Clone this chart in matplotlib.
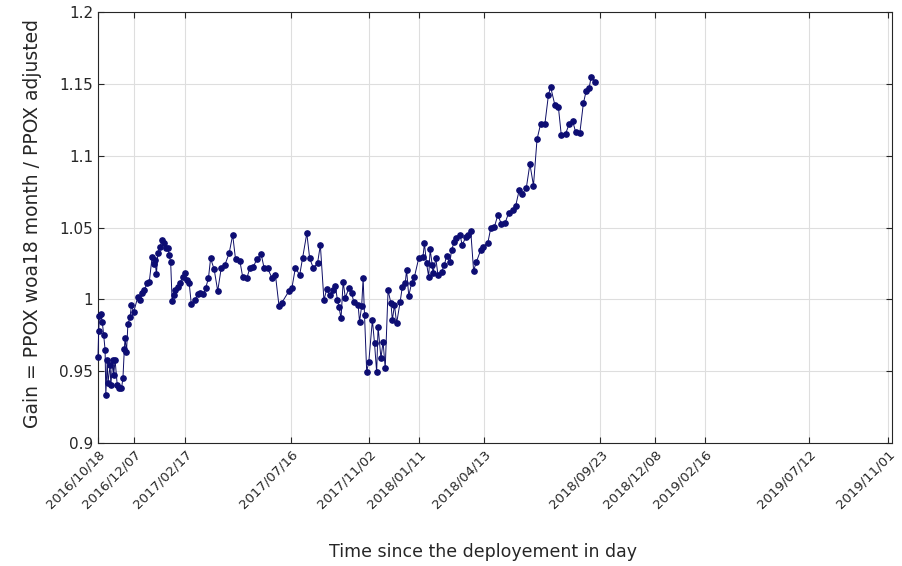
import numpy as np
import matplotlib
matplotlib.use("Agg")
import matplotlib.pyplot as plt

# deployment date and the dates marked on the time axis
start_date = "2016-10-18"
tick_dates = ["2016-10-18", "2016-12-07", "2017-02-17", "2017-07-16", "2017-11-02",
              "2018-01-11", "2018-04-13", "2018-09-23", "2018-12-08", "2019-02-16",
              "2019-07-12", "2019-11-01"]

# days since deployment for each profile
days = [0, 1, 2, 4, 6, 8, 10, 11, 13, 14, 17, 18, 21, 22, 24, 27, 29, 33, 35, 37,
        38, 40, 42, 45, 47, 50, 56, 59, 62, 65, 69, 72, 76, 78, 80, 82, 84, 87, 90, 92,
        95, 98, 100, 102, 104, 106, 108, 112, 115, 119, 122, 125, 128, 131,
        136, 140, 143, 148, 151, 155, 158, 163, 168, 173, 178, 184, 189, 193, 199, 203,
        209, 213, 218, 223, 229, 233, 238, 244, 249, 254, 258, 268, 272, 277, 283, 287, 293,
        297, 302, 308, 312, 317, 321, 325, 330, 333, 336, 338, 341, 344, 347, 352, 356,
        359, 365, 367, 370, 372, 374, 377, 380, 385, 388, 391, 393, 397, 400, 403, 407,
        411, 413, 416, 419, 424, 427, 431, 433, 436, 440, 444,
        450, 456, 458, 461, 464, 466, 469, 470, 474, 477, 482, 486, 489, 494, 496, 500,
        503, 508, 511, 516, 519, 523, 527, 531, 537, 540, 547, 551, 556, 561, 566, 571,
        576, 582, 586,
        591, 595, 601, 606, 611, 616, 621, 627, 632, 635, 641, 646, 650, 656, 661, 666,
        670, 676, 681, 685, 689, 692, 698]

# PPOX woa18 / PPOX adjusted gain
gain = [0.960, 0.978, 0.9886, 0.9896, 0.9844, 0.9752, 0.9647, 0.9334, 0.9578, 0.9416,
        0.9543, 0.9404, 0.9578, 0.9473, 0.9578, 0.9404, 0.9381, 0.9381, 0.945, 0.9654,
        0.9729, 0.9636, 0.9826, 0.9879, 0.996, 0.991, 1.0018, 0.9995, 1.0042, 1.0065,
        1.0113, 1.0123, 1.0297, 1.0244, 1.0274, 1.0174, 1.032, 1.0366, 1.0413, 1.039,
        1.0359, 1.0355, 1.0309, 1.0258, 0.9988, 1.003, 1.0065, 1.0088, 1.0113, 1.0157,
        1.018, 1.0134, 1.0111, 0.9965,
        0.9995, 1.0035, 1.0042, 1.0035, 1.0077, 1.0147, 1.0285, 1.0209, 1.0058, 1.022,
        1.0239, 1.032, 1.0448, 1.0279, 1.0269, 1.0157, 1.015, 1.0216, 1.0227, 1.0281,
        1.0313, 1.022, 1.0216, 1.015, 1.0169, 0.9953, 0.9977, 1.0058, 1.0077, 1.022,
        1.0169, 1.0286, 1.046,
        1.0286, 1.022, 1.025, 1.0378, 0.9995, 1.0072, 1.003, 1.0065, 1.0093, 0.9995,
        0.9949, 0.9868, 1.0123, 1.0011, 1.0077, 1.0042, 0.998, 0.996, 0.9844, 0.9956,
        1.0147, 0.9891, 0.9496, 0.9566, 0.9856, 0.9694, 0.9492, 0.981, 0.959, 0.9705,
        0.952, 1.0065, 0.9972, 0.9856, 0.996, 0.9833, 0.9984, 1.0088, 1.0111, 1.0204,
        1.0025, 1.0111, 1.0157,
        1.0286, 1.0297, 1.039, 1.025, 1.0157, 1.0348, 1.0239, 1.0181, 1.0286, 1.0169,
        1.0192, 1.0239, 1.0302, 1.0262, 1.0343, 1.0401, 1.0425, 1.0448, 1.0378, 1.0432,
        1.0448, 1.0476, 1.0199, 1.0262, 1.0343, 1.0366, 1.0394, 1.0494, 1.0501, 1.0587,
        1.0524, 1.0529, 1.0599, 1.0622, 1.065,
        1.0761, 1.0731, 1.0777, 1.0942, 1.0792, 1.1114, 1.122, 1.122, 1.1422, 1.148,
        1.1353, 1.1337, 1.1144, 1.1151, 1.122, 1.1241, 1.1167, 1.1155, 1.1364, 1.1452,
        1.1469, 1.155, 1.1515]

y_ticks = [0.9, 0.95, 1.0, 1.05, 1.1, 1.15, 1.2]
y_labels = ["0.9", "0.95", "1", "1.05", "1.1", "1.15", "1.2"]

tick_days = [(np.datetime64(d) - np.datetime64(start_date)).astype(int) for d in tick_dates]
tick_labels = [d.replace("-", "/") for d in tick_dates]

edge = (0.15, 0.15, 0.15)
fig = plt.figure(figsize=(9.03, 5.66), dpi=100)
ax = fig.add_axes([0.1085, 0.2173, 0.8793, 0.7615])

ax.plot(days, gain, color=(0.05, 0.05, 0.4), linewidth=0.7, marker="o",
        markersize=3.8, markerfacecolor=(0.05, 0.05, 0.45),
        markeredgecolor=(0.05, 0.05, 0.45), zorder=3, clip_on=False)

ax.set_xlim(0, 1114)
ax.set_ylim(0.9, 1.2)
ax.set_xticks(tick_days)
ax.set_xticklabels(tick_labels, rotation=45, ha="right", rotation_mode="anchor",
                   fontsize=9.5)
ax.set_yticks(y_ticks)
ax.set_yticklabels(y_labels, fontsize=11)

ax.grid(True, color=(0.87, 0.87, 0.87), linewidth=0.8, zorder=0)
ax.set_axisbelow(True)
ax.tick_params(direction="in", top=True, right=True, length=4, width=0.8,
               colors=edge)
for s in ax.spines.values():
    s.set_color(edge)
    s.set_linewidth(0.8)

ax.set_xlabel("Time since the deployement in day", fontsize=12.5, color=edge)
ax.xaxis.set_label_coords(0.485, -0.232)
ax.set_ylabel("Gain = PPOX woa18 month / PPOX adjusted", fontsize=13.5, color=edge)
ax.yaxis.set_label_coords(-0.07, 0.51)

fig.savefig("out.png", dpi=100)
